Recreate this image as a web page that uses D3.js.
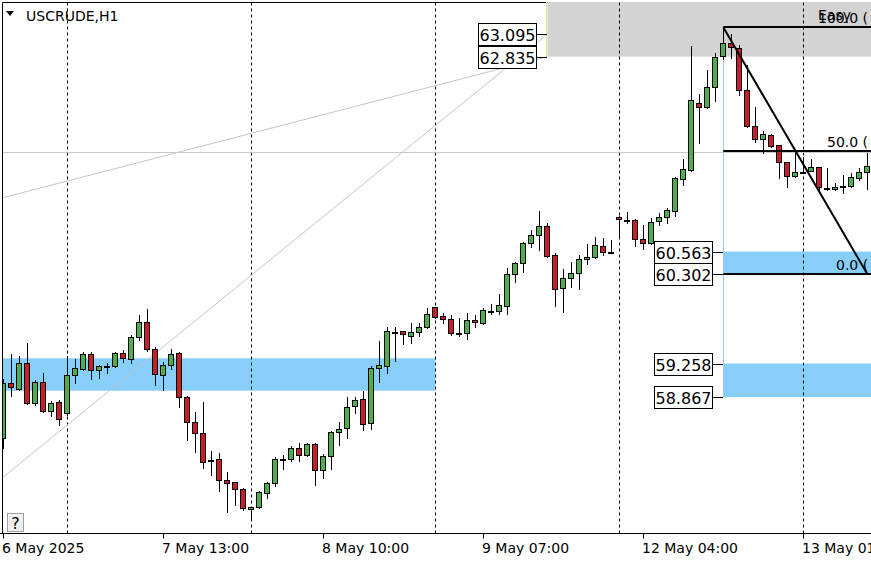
<!DOCTYPE html>
<html>
<head>
<meta charset="utf-8">
<script src="https://cdn.jsdelivr.net/npm/d3@7"></script>
<style>
html, body { margin: 0; padding: 0; background: #fff; overflow: hidden; }
svg { display: block; font-family: "DejaVu Sans", Verdana, sans-serif; }
</style>
</head>
<body>
<div id="chart"></div>
<script>
// ---------- data (USCRUDE, H1) ----------
const opens = [
  58.39, 59.03, 58.96, 59.26, 58.80, 59.04, 58.70, 58.81, 58.68, 59.12,
  59.19, 59.37, 59.18, 59.23, 59.23, 59.38, 59.31, 59.57, 59.74, 59.43,
  59.12, 59.24, 59.38, 58.87, 58.58, 58.45, 58.13, 58.15, 57.90, 57.88,
  57.80, 57.56, 57.59, 57.75, 57.87, 58.15, 58.15, 58.27, 58.19, 58.32,
  58.02, 58.18, 58.46, 58.51, 58.76, 58.85, 58.57, 59.21, 59.23, 59.63,
  59.64, 59.58, 59.63, 59.68, 59.92, 59.81, 59.78, 59.61, 59.61, 59.77,
  59.73, 59.87, 59.87, 59.93, 60.30, 60.43, 60.66, 60.76, 60.86, 60.52,
  60.14, 60.25, 60.31, 60.48, 60.50, 60.63, 60.56, 60.97, 60.93, 60.93,
  60.71, 60.66, 60.92, 60.97, 61.04, 61.41, 61.51, 62.30, 62.25, 62.48,
  62.84, 62.99, 62.94, 62.45, 62.03, 61.88, 61.92, 61.81, 61.61, 61.44,
  61.49, 61.50, 61.55, 61.30, 61.29, 61.33, 61.33, 61.42, 61.49
];
const highs = [
  59.08, 59.37, 59.35, 59.50, 59.07, 59.15, 58.82, 58.83, 59.35, 59.31,
  59.39, 59.39, 59.24, 59.26, 59.39, 59.42, 59.59, 59.82, 59.89, 59.45,
  59.28, 59.43, 59.39, 58.88, 58.69, 58.81, 58.24, 58.22, 57.99, 57.88,
  57.81, 57.59, 57.77, 57.88, 58.17, 58.19, 58.30, 58.33, 58.33, 58.33,
  58.20, 58.47, 58.58, 58.87, 58.87, 58.94, 59.23, 59.52, 59.68, 59.68,
  59.64, 59.73, 59.73, 59.91, 59.92, 59.85, 59.82, 59.79, 59.85, 59.82,
  59.91, 59.95, 60.07, 60.37, 60.44, 60.67, 60.81, 61.04, 60.90, 60.55,
  60.36, 60.44, 60.52, 60.65, 60.73, 60.72, 60.70, 60.98, 61.02, 60.94,
  60.87, 60.95, 61.01, 61.07, 61.43, 61.64, 62.96, 62.40, 62.68, 62.88,
  63.18, 63.10, 62.97, 62.74, 62.25, 61.97, 61.93, 61.81, 61.61, 61.71,
  61.67, 61.64, 61.55, 61.54, 61.36, 61.46, 61.48, 61.54, 61.71
];
const lows = [
  58.27, 58.88, 58.95, 58.79, 58.77, 58.69, 58.65, 58.54, 58.66, 59.03,
  59.18, 59.08, 59.09, 59.15, 59.22, 59.28, 59.26, 59.53, 59.40, 59.01,
  58.95, 59.19, 58.75, 58.37, 58.23, 58.04, 57.96, 57.77, 57.53, 57.61,
  57.55, 57.45, 57.58, 57.69, 57.83, 58.03, 58.12, 58.12, 58.18, 57.84,
  57.92, 58.03, 58.31, 58.39, 58.68, 58.48, 58.50, 59.04, 59.15, 59.29,
  59.49, 59.50, 59.58, 59.67, 59.79, 59.73, 59.59, 59.58, 59.54, 59.68,
  59.72, 59.84, 59.84, 59.84, 60.21, 60.33, 60.62, 60.58, 60.50, 59.93,
  59.86, 60.15, 60.13, 60.42, 60.49, 60.52, 60.55, 60.72, 60.90, 60.63,
  60.59, 60.65, 60.87, 60.90, 60.98, 61.34, 61.50, 61.83, 62.24, 62.32,
  62.81, 62.82, 62.39, 62.02, 61.84, 61.71, 61.78, 61.42, 61.32, 61.43,
  61.48, 61.50, 61.27, 61.28, 61.28, 61.25, 61.32, 61.40, 61.29
];
const closes = [
  59.03, 58.98, 59.26, 58.80, 59.04, 58.70, 58.80, 58.61, 59.12, 59.21,
  59.37, 59.18, 59.23, 59.23, 59.38, 59.32, 59.57, 59.74, 59.43, 59.14,
  59.24, 59.37, 58.87, 58.58, 58.45, 58.11, 58.13, 57.90, 57.87, 57.80,
  57.57, 57.59, 57.76, 57.87, 58.15, 58.15, 58.27, 58.19, 58.32, 58.02,
  58.18, 58.46, 58.50, 58.75, 58.83, 58.55, 59.21, 59.24, 59.64, 59.63,
  59.60, 59.63, 59.68, 59.84, 59.80, 59.78, 59.61, 59.61, 59.77, 59.74,
  59.88, 59.87, 59.94, 60.30, 60.43, 60.66, 60.76, 60.86, 60.51, 60.13,
  60.26, 60.31, 60.48, 60.50, 60.64, 60.56, 60.56, 60.94, 60.93, 60.71,
  60.66, 60.91, 60.97, 61.05, 61.42, 61.53, 62.33, 62.25, 62.48, 62.83,
  62.99, 62.95, 62.45, 62.03, 61.88, 61.93, 61.79, 61.61, 61.44, 61.49,
  61.49, 61.55, 61.32, 61.30, 61.32, 61.33, 61.43, 61.49, 61.56
];

// time axis
const tickIndex = [0, 20, 40, 60, 80, 100];
const tickLabels = ['6 May 2025', '7 May 13:00', '8 May 10:00', '9 May 07:00', '12 May 04:00', '13 May 01:00'];
const gridIndex = [8, 31, 54, 77, 100];

// drawn objects (bar index / price)
const leftZone = [-2, 54, 59.319, 58.941];          // from, to, top, bottom
const greyZone = [68, 63.6, 62.835];               // from, top, bottom
const greyLabels = [63.095, 62.835];
const rightZones = [[60.563, 60.302], [59.258, 58.867]];
const rightLabels = [60.563, 60.302, 59.258, 58.867];
const zoneStart = 90;
const trendLines = [[0, 61.192, 68, 62.835], [0, 57.936, 68, 63.095]];
const fibStart = [90, 63.177];
const fibEnd = [108, 60.302];
const fibLevels = [100, 50, 0];
const fibTexts = ['100.0 (', '50.0 (', '0.0 ('];

// ***************** 尺寸 *****************
const width = 871;
const height = 562;
const plotTop = 2.5;
const plotBottom = 533.5;
const plotLeft = 2.5;
const bodyW = 5;
const green = '#4cae4c';
const red = '#c42026';
const blue = '#87cefa';
const n = closes.length;
const px = (v) => Math.round(v) + 0.5;

// ***************** 比例尺 *****************
const xScale = d3.scaleLinear()
  .domain([0, n - 1])
  .range([3.3, 3.3 + 8 * (n - 1)]);
const yScale = d3.scaleLinear()
  .domain([57.283, 63.495])
  .range([533, 0]);

const svg = d3.select('#chart').append('svg')
  .attr('width', width)
  .attr('height', height);

svg.append('defs').append('clipPath')
  .attr('id', 'plotClip')
  .append('rect')
  .attr('x', plotLeft)
  .attr('y', plotTop - 0.5)
  .attr('width', width)
  .attr('height', plotBottom - plotTop);

// frame
svg.append('line')
  .attr('x1', plotLeft).attr('x2', width)
  .attr('y1', plotTop).attr('y2', plotTop)
  .attr('stroke', '#000');

const plot = svg.append('g').attr('clip-path', 'url(#plotClip)');

// ***************** zones *****************
plot.append('rect')
  .attr('x', xScale(leftZone[0]))
  .attr('y', yScale(leftZone[2]))
  .attr('width', xScale(leftZone[1]) - xScale(leftZone[0]))
  .attr('height', yScale(leftZone[3]) - yScale(leftZone[2]))
  .attr('fill', blue);

plot.append('rect')
  .attr('x', xScale(greyZone[0]))
  .attr('y', yScale(greyZone[1]))
  .attr('width', width - xScale(greyZone[0]))
  .attr('height', yScale(greyZone[2]) - yScale(greyZone[1]))
  .attr('fill', '#d3d3d3');
plot.append('line')
  .attr('x1', px(xScale(greyZone[0])) - 1).attr('x2', px(xScale(greyZone[0])) - 1)
  .attr('y1', yScale(greyZone[1])).attr('y2', yScale(greyZone[2]))
  .attr('stroke', '#eeee99');

plot.selectAll('.rzone')
  .data(rightZones)
  .enter()
  .append('rect')
  .attr('class', 'rzone')
  .attr('x', xScale(zoneStart))
  .attr('y', (d) => yScale(d[0]))
  .attr('width', width - xScale(zoneStart))
  .attr('height', (d) => yScale(d[1]) - yScale(d[0]))
  .attr('fill', blue);

// ***************** grid *****************
plot.selectAll('.grid')
  .data(gridIndex)
  .enter()
  .append('line')
  .attr('class', 'grid')
  .attr('x1', (d) => px(xScale(d)))
  .attr('x2', (d) => px(xScale(d)))
  .attr('y1', plotTop)
  .attr('y2', plotBottom)
  .attr('stroke', '#000')
  .attr('stroke-dasharray', '3,3');

// fib 50 ray to the left
plot.append('line')
  .attr('x1', 0).attr('x2', width)
  .attr('y1', px(yScale((fibStart[1] + fibEnd[1]) / 2)) + 1)
  .attr('y2', px(yScale((fibStart[1] + fibEnd[1]) / 2)) + 1)
  .attr('stroke', '#c8c8c8');

// trend lines
trendLines.forEach((t) => {
  const line = d3.scaleLinear().domain([t[0], t[2]]).range([t[1], t[3]]);
  plot.append('line')
    .attr('x1', xScale(-1)).attr('y1', yScale(line(-1)))
    .attr('x2', xScale(t[2])).attr('y2', yScale(t[3]))
    .attr('stroke', '#c4c4c4')
    .attr('stroke-width', 1);
});

// vertical marker
plot.append('line')
  .attr('x1', px(xScale(zoneStart))).attr('x2', px(xScale(zoneStart)))
  .attr('y1', yScale(fibStart[1]))
  .attr('y2', yScale(rightZones[1][1]))
  .attr('stroke', '#9ccbec');

// ***************** 蜡烛 *****************
const candles = plot.selectAll('.candle')
  .data(d3.range(n))
  .enter()
  .append('g')
  .attr('class', 'candle');

candles.append('line')
  .attr('x1', (i) => px(xScale(i)))
  .attr('x2', (i) => px(xScale(i)))
  .attr('y1', (i) => Math.round(yScale(highs[i])))
  .attr('y2', (i) => Math.round(yScale(lows[i])) + 1)
  .attr('stroke', '#000');

candles.append('rect')
  .attr('x', (i) => Math.round(xScale(i)) - 2.5)
  .attr('y', (i) => Math.round(yScale(Math.max(opens[i], closes[i]))) + 0.5)
  .attr('width', bodyW)
  .attr('height', (i) => Math.max(1, Math.round(yScale(Math.min(opens[i], closes[i]))) - Math.round(yScale(Math.max(opens[i], closes[i])))))
  .attr('fill', (i) => closes[i] > opens[i] ? green : (closes[i] < opens[i] ? red : '#000'))
  .attr('stroke', '#000');

// ***************** fibo *****************
const fibY = (lv) => yScale(fibEnd[1] + (fibStart[1] - fibEnd[1]) * lv / 100);
plot.selectAll('.fib')
  .data(fibLevels)
  .enter()
  .append('line')
  .attr('class', 'fib')
  .attr('x1', xScale(fibStart[0]))
  .attr('x2', width)
  .attr('y1', (d) => Math.round(fibY(d)))
  .attr('y2', (d) => Math.round(fibY(d)))
  .attr('stroke', '#000')
  .attr('stroke-width', 2);

plot.append('line')
  .attr('x1', xScale(fibStart[0])).attr('y1', yScale(fibStart[1]))
  .attr('x2', xScale(fibEnd[0])).attr('y2', yScale(fibEnd[1]))
  .attr('stroke', '#000')
  .attr('stroke-width', 2);

// level texts share one right edge, so shorter texts start further right
const fibTextX = [818, 827, 836];
plot.selectAll('.fibText')
  .data(fibLevels)
  .enter()
  .append('text')
  .attr('class', 'fibText')
  .attr('x', (d, i) => fibTextX[i])
  .attr('y', (d) => Math.round(fibY(d)) - 4)
  .attr('font-size', 14)
  .attr('fill', '#000')
  .text((d, i) => fibTexts[i]);

plot.append('text')
  .attr('x', 818)
  .attr('y', Math.round(fibY(100)) - 7)
  .attr('font-size', 14)
  .attr('fill', '#000')
  .text('Easy');

// ***************** price labels *****************
function priceLabel(g, price, xRight) {
  const yy = Math.round(yScale(price));
  g.append('line')
    .attr('x1', xRight - 10).attr('x2', xRight)
    .attr('y1', yy + 0.5).attr('y2', yy + 0.5)
    .attr('stroke', '#000');
  g.append('rect')
    .attr('x', xRight - 68.5)
    .attr('y', yy - 10.5)
    .attr('width', 58)
    .attr('height', 22)
    .attr('fill', '#fff')
    .attr('stroke', '#000');
  g.append('text')
    .attr('x', xRight - 39.5)
    .attr('y', yy + 7)
    .attr('text-anchor', 'middle')
    .attr('font-size', 16)
    .attr('fill', '#000')
    .text(price.toFixed(3));
}
const labels = svg.append('g');
greyLabels.forEach((p) => priceLabel(labels, p, Math.round(xScale(greyZone[0]))));
rightLabels.forEach((p) => priceLabel(labels, p, Math.round(xScale(zoneStart))));

// ***************** axes / frame *****************
svg.append('line')
  .attr('x1', plotLeft).attr('x2', plotLeft)
  .attr('y1', plotTop).attr('y2', plotBottom)
  .attr('stroke', '#000');
svg.append('line')
  .attr('x1', 0).attr('x2', width)
  .attr('y1', plotBottom).attr('y2', plotBottom)
  .attr('stroke', '#000');

const xAxis = svg.append('g').attr('class', 'x-axis');
xAxis.selectAll('.tick')
  .data(tickIndex)
  .enter()
  .append('line')
  .attr('class', 'tick')
  .attr('x1', (d) => px(xScale(d)))
  .attr('x2', (d) => px(xScale(d)))
  .attr('y1', plotBottom)
  .attr('y2', plotBottom + 5)
  .attr('stroke', '#000');
xAxis.selectAll('.tickLabel')
  .data(tickIndex)
  .enter()
  .append('text')
  .attr('class', 'tickLabel')
  .attr('x', (d) => Math.round(xScale(d)) - 1)
  .attr('y', 553)
  .attr('font-size', 14)
  .attr('fill', '#000')
  .text((d, i) => tickLabels[i]);

// header
svg.append('path')
  .attr('d', 'M6,11 L14,11 L10,16 Z')
  .attr('fill', '#000');
svg.append('text')
  .attr('x', 26)
  .attr('y', 20.5)
  .attr('font-size', 14)
  .attr('fill', '#000')
  .text('USCRUDE,H1');

// ? button
svg.append('rect')
  .attr('x', 7.5).attr('y', 513.5)
  .attr('width', 16).attr('height', 18)
  .attr('fill', '#f0f0f0')
  .attr('stroke', '#a0a0a0');
svg.append('text')
  .attr('x', 15.5).attr('y', 529)
  .attr('text-anchor', 'middle')
  .attr('font-size', 16)
  .attr('fill', '#000')
  .text('?');
</script>
</body>
</html>
